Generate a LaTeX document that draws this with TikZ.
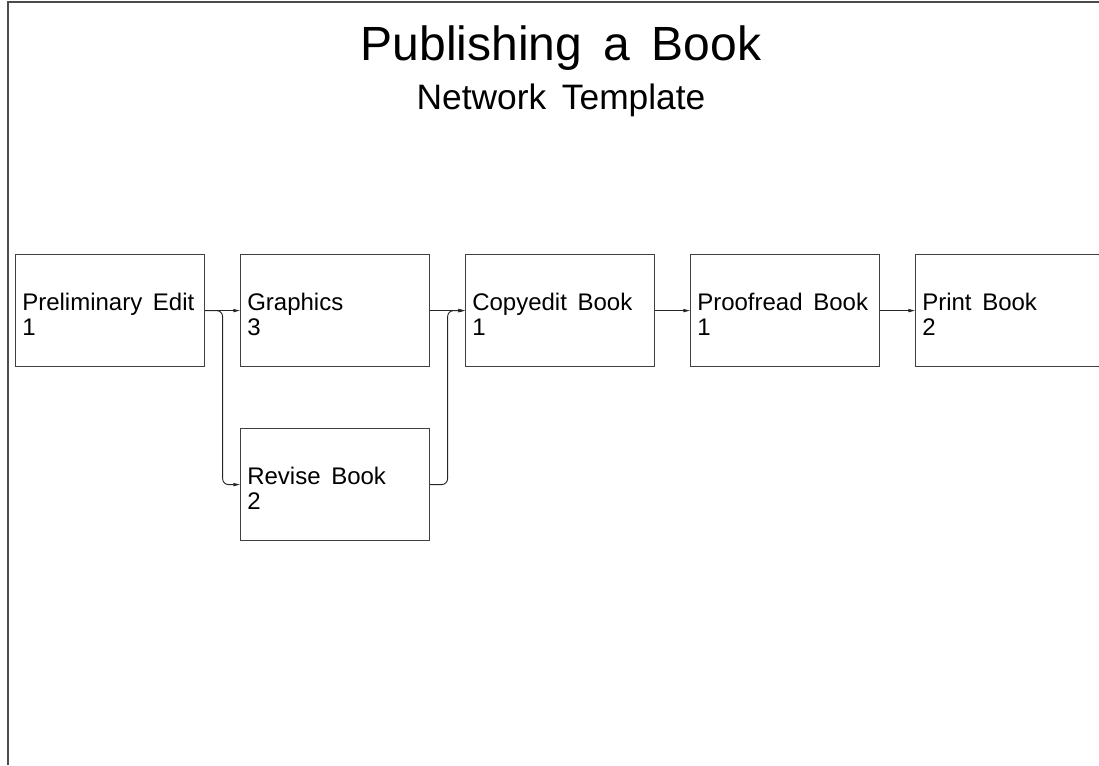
\documentclass[tikz,border=0pt]{standalone}
\usepackage{fontspec}
\setmainfont{Liberation Sans}[WordSpace=1.6]
\usetikzlibrary{arrows.meta,calc}
\begin{document}
\begin{tikzpicture}[x=0.75pt,y=-0.75pt,
  frameline/.style={draw=black!70,line width=1.3pt},
  task/.style={draw=black!75,line width=0.9pt,rectangle,minimum width=141.75pt,minimum height=84pt,inner sep=0pt,anchor=north west},
  tasktext/.style={font=\fontsize{18pt}{18.5pt}\selectfont,align=left,inner sep=0pt,anchor=west},
  conn/.style={draw=black!85,line width=0.7pt,rounded corners=4.5pt,-{Triangle[length=5pt,width=2.4pt]}},
  title/.style={font=\fontsize{36pt}{40pt}\selectfont,anchor=base,inner sep=0pt},
  subtitle/.style={font=\fontsize{26.5pt}{30pt}\selectfont,anchor=base,inner sep=0pt}]
\useasboundingbox (0,0) rectangle (1099,765);
\clip (0,0) rectangle (1099,765);
\draw[frameline] (8,765) -- (8,2) -- (1099,2);
\node[title] (ttl) at (561,60) {Publishing a Book};
\node[subtitle] (sub) at (561,109) {Network Template};
\node[task] (a) at (15,254) {};
\node[task] (b) at (240,254) {};
\node[task] (c) at (240,428) {};
\node[task] (d) at (465,254) {};
\node[task] (e) at (690,254) {};
\node[task] (f) at (915,254) {};
\node[tasktext] (at) at ($(a.west)+(7,4)$) {Preliminary Edit\\1};
\node[tasktext] (bt) at ($(b.west)+(7,4)$) {Graphics\\3};
\node[tasktext] (ct) at ($(c.west)+(7,4)$) {Revise Book\\2};
\node[tasktext] (dt) at ($(d.west)+(7,4)$) {Copyedit Book\\1};
\node[tasktext] (et) at ($(e.west)+(7,4)$) {Proofread Book\\1};
\node[tasktext] (ft) at ($(f.west)+(7,4)$) {Print Book\\2};
\coordinate (s1) at ($(a.east)!0.5!(b.west)$);
\coordinate (s2) at ($(b.east)!0.5!(d.west)$);
\draw[conn] (a.east) -- (b.west);
\draw[conn] (a.east) -- (s1) |- (c.west);
\draw[conn] (b.east) -- (d.west);
\draw[conn] (c.east) -| (s2) -- (d.west);
\draw[conn] (d.east) -- (e.west);
\draw[conn] (e.east) -- (f.west);
\end{tikzpicture}
\end{document}
